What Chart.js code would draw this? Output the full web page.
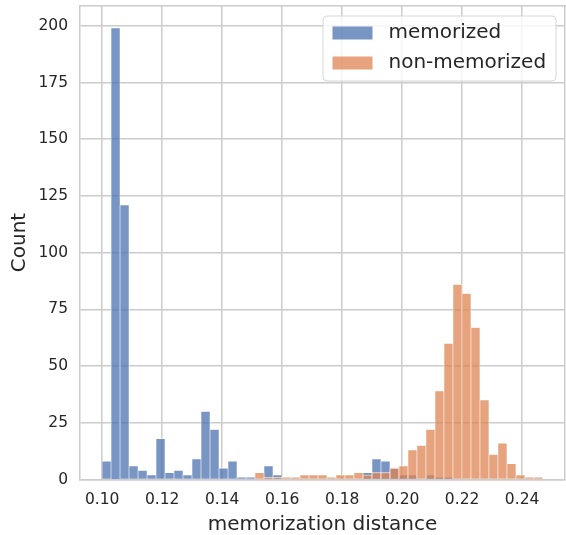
<!DOCTYPE html>
<html>
<head>
<meta charset="utf-8">
<script src="https://cdn.jsdelivr.net/npm/chart.js@4.4.1/dist/chart.umd.min.js"></script>
<style>
  html, body { margin: 0; padding: 0; background: #fff; }
  canvas { display: block; }
</style>
</head>
<body>
<canvas id="histChart" width="566" height="535"></canvas>
<script>
// Shared histogram bins
const binStart = 0.09995;
const binWidth = 0.003;

// Counts per bin
const memorizedCounts = [8, 199, 121, 6, 4, 2, 18, 3, 4, 2, 9, 30, 22, 5, 8, 1, 1, 0, 6, 2,
  0, 0, 0, 0, 0, 0, 0, 0, 0, 3, 9, 8, 5, 2, 2, 0, 2, 1, 1, 0,
  0, 0, 0, 0, 0, 0, 0, 0, 0];
const nonMemorizedCounts = [0, 0, 0, 0, 0, 0, 0, 0, 0, 0, 0, 0, 0, 0, 0, 0, 0, 3, 1, 1,
  1, 1, 2, 2, 2, 1, 2, 2, 3, 2, 3, 3, 5, 6, 13, 15, 22, 39, 60, 86,
  82, 67, 35, 11, 16, 7, 2, 1, 1];

const seriesLabels = ['memorized', 'non-memorized'];
const seriesColors = ['rgba(76, 114, 176, 0.75)', 'rgba(221, 132, 82, 0.75)'];

const binCenters = memorizedCounts.map((_, i) => +(binStart + binWidth * (i + 0.5)).toFixed(5));
const toPoints = (counts) => binCenters.map((x, i) => ({ x: x, y: counts[i] }));

const textColor = '#262626';
const gridColor = '#cccccc';
Chart.defaults.font.family = '"DejaVu Sans", sans-serif';
Chart.defaults.color = textColor;

// no extra room for edge labels, the plot box is fixed
const noPadding = (s) => {
    s.paddingTop = 0; s.paddingBottom = 0;
    s.paddingLeft = 0; s.paddingRight = 0;
};

// Legend box drawn inside the plot, top right
const legendBox = {
    id: 'legendBox',
    afterDraw(chart) {
        const { ctx, chartArea } = chart;
        const w = 233, h = 65;
        const left = chartArea.right - 9 - w;
        const top = chartArea.top + 10.5;
        ctx.save();
        ctx.beginPath();
        ctx.roundRect(left, top, w, h, 4);
        ctx.fillStyle = 'rgba(255, 255, 255, 0.8)';
        ctx.fill();
        ctx.lineWidth = 1;
        ctx.strokeStyle = '#d6d6d6';
        ctx.stroke();
        ctx.font = '20px "DejaVu Sans"';
        ctx.textBaseline = 'middle';
        ctx.textAlign = 'left';
        seriesLabels.forEach((label, i) => {
            const cy = top + 17 + i * 30;
            ctx.fillStyle = seriesColors[i];
            ctx.fillRect(left + 9.5, cy - 6.5, 40, 13);
            ctx.fillStyle = textColor;
            ctx.fillText(label, left + 65.5, cy);
        });
        ctx.restore();
    }
};

new Chart(document.getElementById('histChart'), {
    type: 'bar',
    data: {
        datasets: [{
            label: seriesLabels[0],
            data: toPoints(memorizedCounts),
            backgroundColor: seriesColors[0],
            borderColor: 'rgba(255, 255, 255, 0.9)',
            borderWidth: 0.6,
            order: 1
        }, {
            label: seriesLabels[1],
            data: toPoints(nonMemorizedCounts),
            backgroundColor: seriesColors[1],
            borderColor: 'rgba(255, 255, 255, 0.9)',
            borderWidth: 0.6,
            order: 0
        }]
    },
    options: {
        responsive: false,
        animation: false,
        grouped: false,
        barPercentage: 1,
        categoryPercentage: 1,
        layout: { padding: { top: 5.5, right: 1, left: 0, bottom: 0 } },
        plugins: {
            legend: { display: false },
            tooltip: { enabled: false }
        },
        scales: {
            x: {
                type: 'linear',
                position: 'bottom',
                offset: false,
                min: 0.0926,
                max: 0.2543,
                ticks: {
                    stepSize: 0.02,
                    includeBounds: false,
                    padding: 11,
                    font: { size: 15.5 },
                    color: textColor,
                    callback: (v) => v.toFixed(2)
                },
                grid: { color: gridColor, lineWidth: 1.5, drawTicks: false, offset: false },
                border: { color: gridColor, width: 1.5 },
                title: {
                    display: true,
                    text: 'memorization distance',
                    font: { size: 20, lineHeight: 1 },
                    padding: 0,
                    color: textColor
                },
                afterFit: (s) => { s.height = 55.5; noPadding(s); }
            },
            y: {
                min: 0,
                max: 208.95,
                ticks: {
                    stepSize: 25,
                    includeBounds: false,
                    padding: 12,
                    font: { size: 15.5 },
                    color: textColor
                },
                grid: { color: gridColor, lineWidth: 1.5, drawTicks: false },
                border: { color: gridColor, width: 1.5 },
                title: {
                    display: true,
                    text: 'Count',
                    font: { size: 20, lineHeight: 1 },
                    padding: { top: 10, bottom: 0 },
                    color: textColor
                },
                afterFit: (s) => { s.width = 80; noPadding(s); }
            },
            xTop: {
                type: 'linear',
                position: 'top',
                display: true,
                offset: false,
                ticks: { display: false },
                grid: { display: false, drawTicks: false, offset: false },
                border: { color: gridColor, width: 1.5 },
                afterFit: (s) => { s.height = 0; noPadding(s); }
            },
            yRight: {
                type: 'linear',
                position: 'right',
                display: true,
                ticks: { display: false },
                grid: { display: false, drawTicks: false },
                border: { color: gridColor, width: 1.5 },
                afterFit: (s) => { s.width = 0; noPadding(s); }
            }
        }
    },
    plugins: [legendBox]
});
</script>
</body>
</html>
